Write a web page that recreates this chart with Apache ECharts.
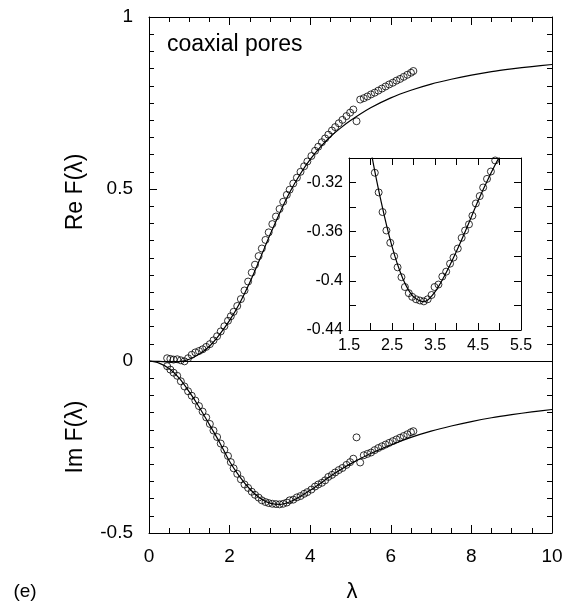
<!DOCTYPE html>
<html>
<head>
<meta charset="utf-8">
<script src="https://cdn.jsdelivr.net/npm/echarts@6/dist/echarts.min.js"></script>
<style>
  html, body { margin: 0; padding: 0; background: #fff; }
  #chart { width: 576px; height: 605px; }
</style>
</head>
<body>
<div id="chart"></div>
<script>
// Sampled points (circles): lambda and the real / imaginary parts of F
const lambdaPts = [0.45, 0.53, 0.61, 0.70, 0.79, 0.88, 0.97, 1.06, 1.15, 1.24, 1.33, 1.42, 1.51, 1.60, 1.69, 1.78, 1.87, 1.96, 2.03, 2.10, 2.19, 2.28, 2.37, 2.46, 2.55, 2.63, 2.72, 2.80, 2.89, 2.97, 3.06, 3.15, 3.24, 3.33, 3.42, 3.49, 3.58, 3.67, 3.76, 3.85, 3.93, 4.03, 4.12, 4.20, 4.29, 4.37, 4.45, 4.54, 4.62, 4.71, 4.80, 4.90, 4.99, 5.07, 5.15, 5.24, 5.33, 5.42, 5.51, 5.60, 5.69, 5.78, 5.87, 5.96, 6.05, 6.14, 6.23, 6.32, 6.41, 6.50, 6.56];
const reCircle = [0.008, 0.006, 0.004, 0.005, 0.002, -0.001, 0.008, 0.018, 0.025, 0.029, 0.034, 0.041, 0.049, 0.060, 0.072, 0.086, 0.101, 0.117, 0.130, 0.143, 0.160, 0.180, 0.205, 0.231, 0.257, 0.280, 0.305, 0.327, 0.352, 0.374, 0.398, 0.420, 0.442, 0.463, 0.483, 0.498, 0.516, 0.533, 0.550, 0.566, 0.580, 0.596, 0.611, 0.623, 0.636, 0.647, 0.658, 0.670, 0.680, 0.691, 0.701, 0.712, 0.722, 0.731, 0.697, 0.760, 0.764, 0.769, 0.775, 0.780, 0.786, 0.792, 0.798, 0.804, 0.809, 0.815, 0.820, 0.826, 0.832, 0.838, 0.843];
const imCircle = [-0.015, -0.025, -0.034, -0.043, -0.059, -0.074, -0.088, -0.101, -0.115, -0.131, -0.147, -0.164, -0.183, -0.202, -0.221, -0.240, -0.258, -0.276, -0.294, -0.312, -0.328, -0.344, -0.359, -0.369, -0.380, -0.389, -0.397, -0.405, -0.410, -0.413, -0.415, -0.416, -0.4167, -0.415, -0.4115, -0.405, -0.403, -0.3965, -0.3925, -0.386, -0.381, -0.3737, -0.365, -0.359, -0.354, -0.347, -0.337, -0.331, -0.324, -0.317, -0.311, -0.302, -0.294, -0.284, -0.222, -0.295, -0.274, -0.270, -0.266, -0.259, -0.253, -0.248, -0.243, -0.238, -0.233, -0.228, -0.223, -0.218, -0.213, -0.207, -0.204];

// Model curves (solid lines)
const lambdaCurve = [0, 0.25, 0.5, 0.75, 1.0, 1.25, 1.5, 1.75, 2.0, 2.25, 2.5, 2.75, 3.0, 3.25, 3.5, 3.75, 4.0, 4.25, 4.5, 4.75, 5.0, 5.5, 6.0, 6.5, 7.0, 7.5, 8.0, 8.5, 9.0, 9.5, 10];
const reCurve = [0, -0.001, -0.003, -0.002, 0.005, 0.020, 0.043, 0.077, 0.118, 0.168, 0.228, 0.296, 0.366, 0.432, 0.492, 0.543, 0.586, 0.622, 0.652, 0.677, 0.699, 0.736, 0.765, 0.787, 0.805, 0.819, 0.831, 0.841, 0.849, 0.856, 0.862];
const imCurve = [0, -0.006, -0.022, -0.050, -0.090, -0.135, -0.185, -0.236, -0.292, -0.336, -0.372, -0.398, -0.413, -0.417, -0.409, -0.394, -0.376, -0.356, -0.335, -0.316, -0.299, -0.269, -0.244, -0.222, -0.204, -0.189, -0.176, -0.165, -0.156, -0.148, -0.141];

// Axis ranges and tick steps
const mainX = { min: 0, max: 10, step: 2 };
const mainY = { min: -0.5, max: 1, step: 0.5 };
const insetX = { min: 1.5, max: 5.5, step: 1 };
const insetY = { min: -0.44, max: -0.30, step: 0.04 };

const FONT = '"Liberation Sans", Arial, Helvetica, sans-serif';
const pair = (xs, ys) => xs.map((x, i) => [x, ys[i]]);

function frameAxis(gridIndex, range, opts) {
  return Object.assign({
    type: 'value',
    gridIndex: gridIndex,
    min: range.min, max: range.max, interval: range.step,
    splitLine: { show: false },
    axisLine: { show: true, onZero: false, lineStyle: { color: '#000', width: 1 } },
    axisTick: { show: true, inside: true, length: 8, lineStyle: { color: '#000', width: 1 } },
    minorTick: { show: true, splitNumber: 4, length: 5, lineStyle: { color: '#000', width: 1 } },
    axisLabel: { show: false }
  }, opts || {});
}

const insetTick = { show: true, inside: true, length: 7, lineStyle: { color: '#000' } };
const insetMinor = { show: true, splitNumber: 2, length: 7, lineStyle: { color: '#000' } };
const tickFmt = v => String(parseFloat(Number(v).toFixed(2)));

const chart = echarts.init(document.getElementById('chart'), null, { renderer: 'canvas' });

chart.setOption({
  backgroundColor: '#fff',
  animation: false,
  grid: [
    { left: 149, top: 17, width: 403, height: 516, show: false },
    { left: 349, top: 158, width: 172, height: 172, show: true, backgroundColor: '#fff', borderWidth: 0, z: 5 }
  ],
  xAxis: [
    frameAxis(0, mainX, { position: 'bottom',
      axisLabel: { show: true, color: '#000', fontSize: 19, fontFamily: FONT, margin: 14, formatter: tickFmt } }),
    frameAxis(0, mainX, { position: 'top' }),
    frameAxis(1, insetX, { position: 'bottom', z: 6, axisTick: insetTick, minorTick: insetMinor,
      axisLabel: { show: true, color: '#000', fontSize: 16, fontFamily: FONT, margin: 8, formatter: tickFmt } }),
    frameAxis(1, insetX, { position: 'top', z: 6, axisTick: insetTick, minorTick: insetMinor })
  ],
  yAxis: [
    frameAxis(0, mainY, { position: 'left',
      minorTick: { show: true, splitNumber: 10, length: 5, lineStyle: { color: '#000' } },
      axisLabel: { show: true, color: '#000', fontSize: 19, fontFamily: FONT, margin: 16, formatter: tickFmt } }),
    frameAxis(0, mainY, { position: 'right',
      minorTick: { show: true, splitNumber: 10, length: 5, lineStyle: { color: '#000' } } }),
    frameAxis(1, insetY, { position: 'left', z: 6, axisTick: insetTick, minorTick: insetMinor,
      axisLabel: { show: true, color: '#000', fontSize: 16, fontFamily: FONT, margin: 6,
        showMaxLabel: false, formatter: tickFmt } }),
    frameAxis(1, insetY, { position: 'right', z: 6, axisTick: insetTick, minorTick: insetMinor })
  ],
  series: [
    {
      name: 'Re model', type: 'line', xAxisIndex: 0, yAxisIndex: 0,
      data: pair(lambdaCurve, reCurve), smooth: 0.3, showSymbol: false, symbol: 'none',
      lineStyle: { color: '#000', width: 1.2 }, z: 2,
      markLine: {
        silent: true, symbol: 'none', label: { show: false },
        lineStyle: { color: '#000', width: 1, type: 'solid' },
        data: [{ yAxis: 0 }]
      }
    },
    {
      name: 'Im model', type: 'line', xAxisIndex: 0, yAxisIndex: 0,
      data: pair(lambdaCurve, imCurve), smooth: 0.3, showSymbol: false, symbol: 'none',
      lineStyle: { color: '#000', width: 1.2 }, z: 2
    },
    {
      name: 'Re data', type: 'scatter', xAxisIndex: 0, yAxisIndex: 0,
      data: pair(lambdaPts, reCircle), symbol: 'circle', symbolSize: 7,
      itemStyle: { color: 'rgba(0,0,0,0)', borderColor: '#000', borderWidth: 1 }, z: 3
    },
    {
      name: 'Im data', type: 'scatter', xAxisIndex: 0, yAxisIndex: 0,
      data: pair(lambdaPts, imCircle), symbol: 'circle', symbolSize: 7,
      itemStyle: { color: 'rgba(0,0,0,0)', borderColor: '#000', borderWidth: 1 }, z: 3
    },
    {
      name: 'Im model (inset)', type: 'line', xAxisIndex: 2, yAxisIndex: 2, clip: true,
      data: pair(lambdaCurve, imCurve), smooth: 0.3, showSymbol: false, symbol: 'none',
      lineStyle: { color: '#000', width: 1.2 }, z: 7
    },
    {
      name: 'Im data (inset)', type: 'scatter', xAxisIndex: 2, yAxisIndex: 2, clip: true,
      data: pair(lambdaPts, imCircle), symbol: 'circle', symbolSize: 7,
      itemStyle: { color: 'rgba(0,0,0,0)', borderColor: '#000', borderWidth: 1 }, z: 8
    }
  ],
  graphic: [
    { type: 'text', x: 167, y: 45, z: 10,
      style: { text: 'coaxial pores', font: '23px ' + FONT, fill: '#000', textAlign: 'left', textVerticalAlign: 'middle' } },
    { type: 'text', x: 76, y: 192, rotation: Math.PI / 2, z: 10,
      style: { text: 'Re F(λ)', font: '23px ' + FONT, fill: '#000', textAlign: 'center', textVerticalAlign: 'middle' } },
    { type: 'text', x: 76, y: 437, rotation: Math.PI / 2, z: 10,
      style: { text: 'Im F(λ)', font: '23px ' + FONT, fill: '#000', textAlign: 'center', textVerticalAlign: 'middle' } },
    { type: 'text', x: 352, y: 592, z: 10,
      style: { text: 'λ', font: '22px ' + FONT, fill: '#000', textAlign: 'center', textVerticalAlign: 'middle' } },
    { type: 'text', x: 25, y: 592, z: 10,
      style: { text: '(e)', font: '19px ' + FONT, fill: '#000', textAlign: 'center', textVerticalAlign: 'middle' } }
  ]
});
</script>
</body>
</html>
